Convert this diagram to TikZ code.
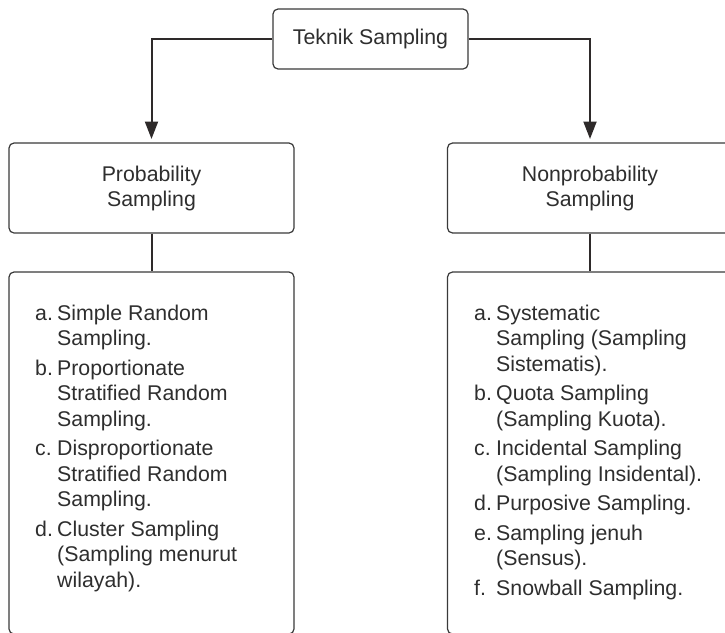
\documentclass[tikz,border=0pt]{standalone}
\usepackage{fontspec}
\setmainfont{Liberation Sans}
\usetikzlibrary{arrows.meta}

\definecolor{ink}{HTML}{2E2E2E}
\definecolor{edge}{HTML}{3A3A3A}
\definecolor{wire}{HTML}{2E2A2A}

\tikzset{
  box/.style={draw=edge, line width=1.2pt, rounded corners=5pt, fill=white,
              text=ink, align=center, inner sep=0pt,
              font=\fontsize{21.3}{25}\selectfont},
  listtext/.style={text=ink, inner sep=0pt, anchor=north west,
              font=\fontsize{21.3}{25.5}\selectfont},
  wirebase/.style={draw=wire, line width=2pt},
  arrowwire/.style={wirebase, -{Triangle[length=17.5pt,width=13pt]}, shorten >=3.4pt},
}

\begin{document}
\begin{tikzpicture}[x=1pt,y=-1pt]
  \useasboundingbox (0,0) rectangle (725,632);
  \clip (0,0) rectangle (725,632);

  % top node
  \node[box, minimum width=195pt, minimum height=60pt] (top) at (370.5,39) {Teknik Sampling};

  % the two branches
  \node[box, minimum width=285pt, minimum height=90pt] (prob) at (151.5,188) {Probability\\Sampling};
  \node[box, minimum width=285pt, minimum height=90pt] (nonprob) at (590,188) {Nonprobability\\Sampling};

  % list boxes
  \node[box, minimum width=285pt, minimum height=362pt] (plist) at (151.5,453) {};
  \node[box, minimum width=285pt, minimum height=362pt] (nlist) at (590,453) {};

  % connectors
  \draw[arrowwire] (top.west) -| (prob.north);
  \draw[arrowwire] (top.east) -| (nonprob.north);
  \draw[wirebase] (prob.south) -- (plist.north);
  \draw[wirebase] (nonprob.south) -- (nlist.north);

  % list contents
  \node[listtext] (ptext) at (35,302.2) {%
    \begin{tabular}{@{}p{22pt}@{}l@{}}
      a. & Simple Random \\
         & Sampling. \\[4pt]
      b. & Proportionate \\
         & Stratified Random \\
         & Sampling. \\[4pt]
      c. & Disproportionate \\
         & Stratified Random \\
         & Sampling. \\[4pt]
      d. & Cluster Sampling \\
         & (Sampling menurut \\
         & wilayah).
    \end{tabular}};

  \node[listtext] (ntext) at (474,302.2) {%
    \begin{tabular}{@{}p{22pt}@{}l@{}}
      a. & Systematic \\
         & Sampling (Sampling \\
         & Sistematis). \\[4pt]
      b. & Quota Sampling \\
         & (Sampling Kuota). \\[4pt]
      c. & Incidental Sampling \\
         & (Sampling Insidental). \\[4pt]
      d. & Purposive Sampling. \\[4pt]
      e. & Sampling jenuh \\
         & (Sensus). \\[4pt]
      f. & Snowball Sampling.
    \end{tabular}};
\end{tikzpicture}
\end{document}
